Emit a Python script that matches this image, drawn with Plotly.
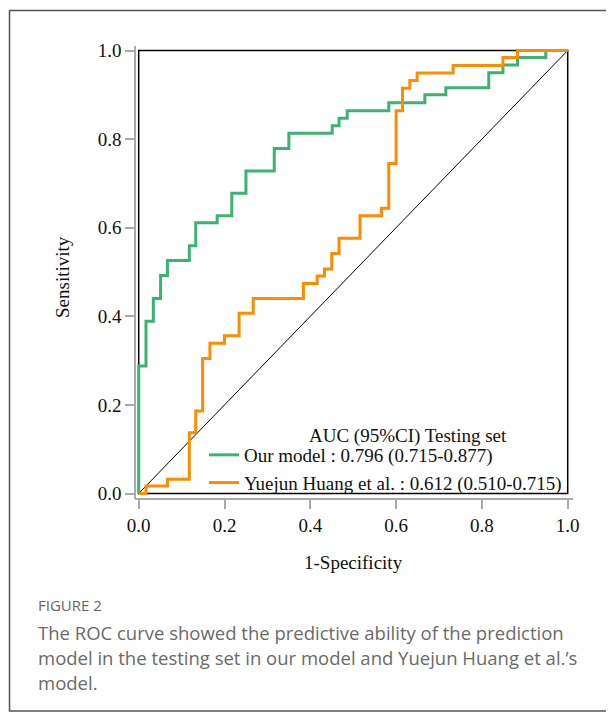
import plotly.graph_objects as go

# ---- data ----
our_fpr = [0, 0, 0.017, 0.034, 0.051, 0.067, 0.118, 0.133, 0.183, 0.217, 0.25, 0.316, 0.35,
           0.451, 0.467, 0.486, 0.583, 0.667, 0.716, 0.816, 0.849, 0.883, 0.949, 1.0]
our_sens = [0, 0.288, 0.389, 0.44, 0.492, 0.526, 0.559, 0.611, 0.627, 0.678, 0.728, 0.779, 0.813,
            0.830, 0.847, 0.864, 0.882, 0.9, 0.916, 0.95, 0.967, 0.984, 1.0, 1.0]

huang_fpr = [0, 0.017, 0.067, 0.118, 0.133, 0.149, 0.166, 0.2, 0.234, 0.267, 0.384, 0.416, 0.433,
             0.45, 0.467, 0.516, 0.566, 0.583, 0.6, 0.615, 0.632, 0.649, 0.733, 0.849, 0.883, 1.0]
huang_sens = [0, 0.017, 0.032, 0.137, 0.186, 0.305, 0.339, 0.356, 0.407, 0.44, 0.474, 0.491, 0.507,
              0.542, 0.576, 0.627, 0.644, 0.745, 0.864, 0.915, 0.932, 0.949, 0.966, 0.984, 1.0, 1.0]

ref_line = [0, 1]
tick_vals = [0, 0.2, 0.4, 0.6, 0.8, 1.0]
tick_text = ["0.0", "0.2", "0.4", "0.6", "0.8", "1.0"]

our_name = "Our model : 0.796 (0.715-0.877)"
huang_name = "Yuejun Huang et al. : 0.612 (0.510-0.715)"
legend_title = "AUC (95%CI) Testing set"
x_title = "1-Specificity"
y_title = "Sensitivity"
fig_label = "FIGURE 2"
caption_lines = [
    "The ROC curve showed the predictive ability of the prediction",
    "model in the testing set in our model and Yuejun Huang et al.\u2019s",
    "model.",
]

SERIF = "Liberation Serif, Times New Roman, serif"
SANS = "Open Sans, Noto Sans, sans-serif"

# page geometry (browser body margin of 8px is compensated)
OFF = 8
W, H = 614, 714
PL, PR, PT, PB = 135, 573, 46, 499  # paper box in window px
def px_x(p):
    return (p - PL) / (PR - PL)
def px_y(p):
    return (PB - p) / (PB - PT)

fig = go.Figure()

fig.add_trace(go.Scatter(x=ref_line, y=ref_line, mode="lines",
                         line=dict(color="black", width=1), showlegend=False,
                         hoverinfo="skip"))
fig.add_trace(go.Scatter(x=our_fpr, y=our_sens, mode="lines", name=our_name,
                         line=dict(color="#3CB371", width=3, shape="hv")))
fig.add_trace(go.Scatter(x=huang_fpr, y=huang_sens, mode="lines", name=huang_name,
                         line=dict(color="#FF8C00", width=3, shape="hv")))

# x: 0 -> 138.7px, 1 -> 567.7px ; y: 0 -> 493.5px, 1 -> 50.5px
xu = 567.7 - 138.7
yu = 493.5 - 50.5
x_range = [-(138.7 - PL) / xu, 1 + (PR - 567.7) / xu]
y_range = [-(PB - 493.5) / yu, 1 + (50.5 - PT) / yu]

axis_common = dict(
    showgrid=False, zeroline=False, showline=True, linecolor="#aaaaaa", linewidth=1.5,
    ticks="outside", ticklen=9, tickwidth=1.5, tickcolor="#aaaaaa",
    tickvals=tick_vals, ticktext=tick_text,
    tickfont=dict(family=SERIF, size=19, color="#111111"),
    anchor="free", position=0,
)
fig.update_xaxes(range=x_range, **axis_common)
fig.update_yaxes(range=y_range, **axis_common)

shapes = [
    # plot box
    dict(type="rect", xref="x", yref="y", x0=0, x1=1, y0=0, y1=1,
         line=dict(color="black", width=1.5), layer="below"),
    # outer figure frame
    dict(type="rect", xref="paper", yref="paper",
         x0=px_x(9.5), x1=px_x(640), y0=px_y(711), y1=px_y(10.5),
         line=dict(color="#555555", width=1.5), layer="below"),
]

annotations = [
    dict(text=legend_title, xref="paper", yref="paper", x=px_x(408), y=px_y(436),
         xanchor="center", yanchor="middle", showarrow=False,
         font=dict(family=SERIF, size=19, color="#111111")),
    dict(text=x_title, xref="paper", yref="paper", x=px_x(353), y=px_y(562),
         xanchor="center", yanchor="middle", showarrow=False,
         font=dict(family=SERIF, size=19, color="#111111")),
    dict(text=y_title, xref="paper", yref="paper", x=px_x(62), y=px_y(277),
         xanchor="center", yanchor="middle", showarrow=False, textangle=-90,
         font=dict(family=SERIF, size=19, color="#111111")),
    dict(text=fig_label, xref="paper", yref="paper", x=px_x(36), y=px_y(605),
         xanchor="left", yanchor="middle", showarrow=False,
         font=dict(family=SANS, size=15, color="#666666")),
]
for i, line in enumerate(caption_lines):
    annotations.append(dict(text=line, xref="paper", yref="paper", x=px_x(36),
                            y=px_y(632 + 25 * i), xanchor="left", yanchor="middle",
                            showarrow=False,
                            font=dict(family=SANS, size=18.5, color="#6a6a6a")))

fig.update_layout(
    width=W - OFF, height=H - OFF,
    margin=dict(l=PL - OFF, r=W - PR, t=PT - OFF, b=H - PB, pad=0),
    paper_bgcolor="white", plot_bgcolor="white",
    shapes=shapes, annotations=annotations,
    legend=dict(x=px_x(567), y=px_y(502), xanchor="right", yanchor="bottom",
                bgcolor="rgba(0,0,0,0)", borderwidth=0,
                font=dict(family=SERIF, size=19, color="#111111"),
                tracegroupgap=0, itemwidth=30),
    showlegend=True,
)

fig.write_html("out.html")
